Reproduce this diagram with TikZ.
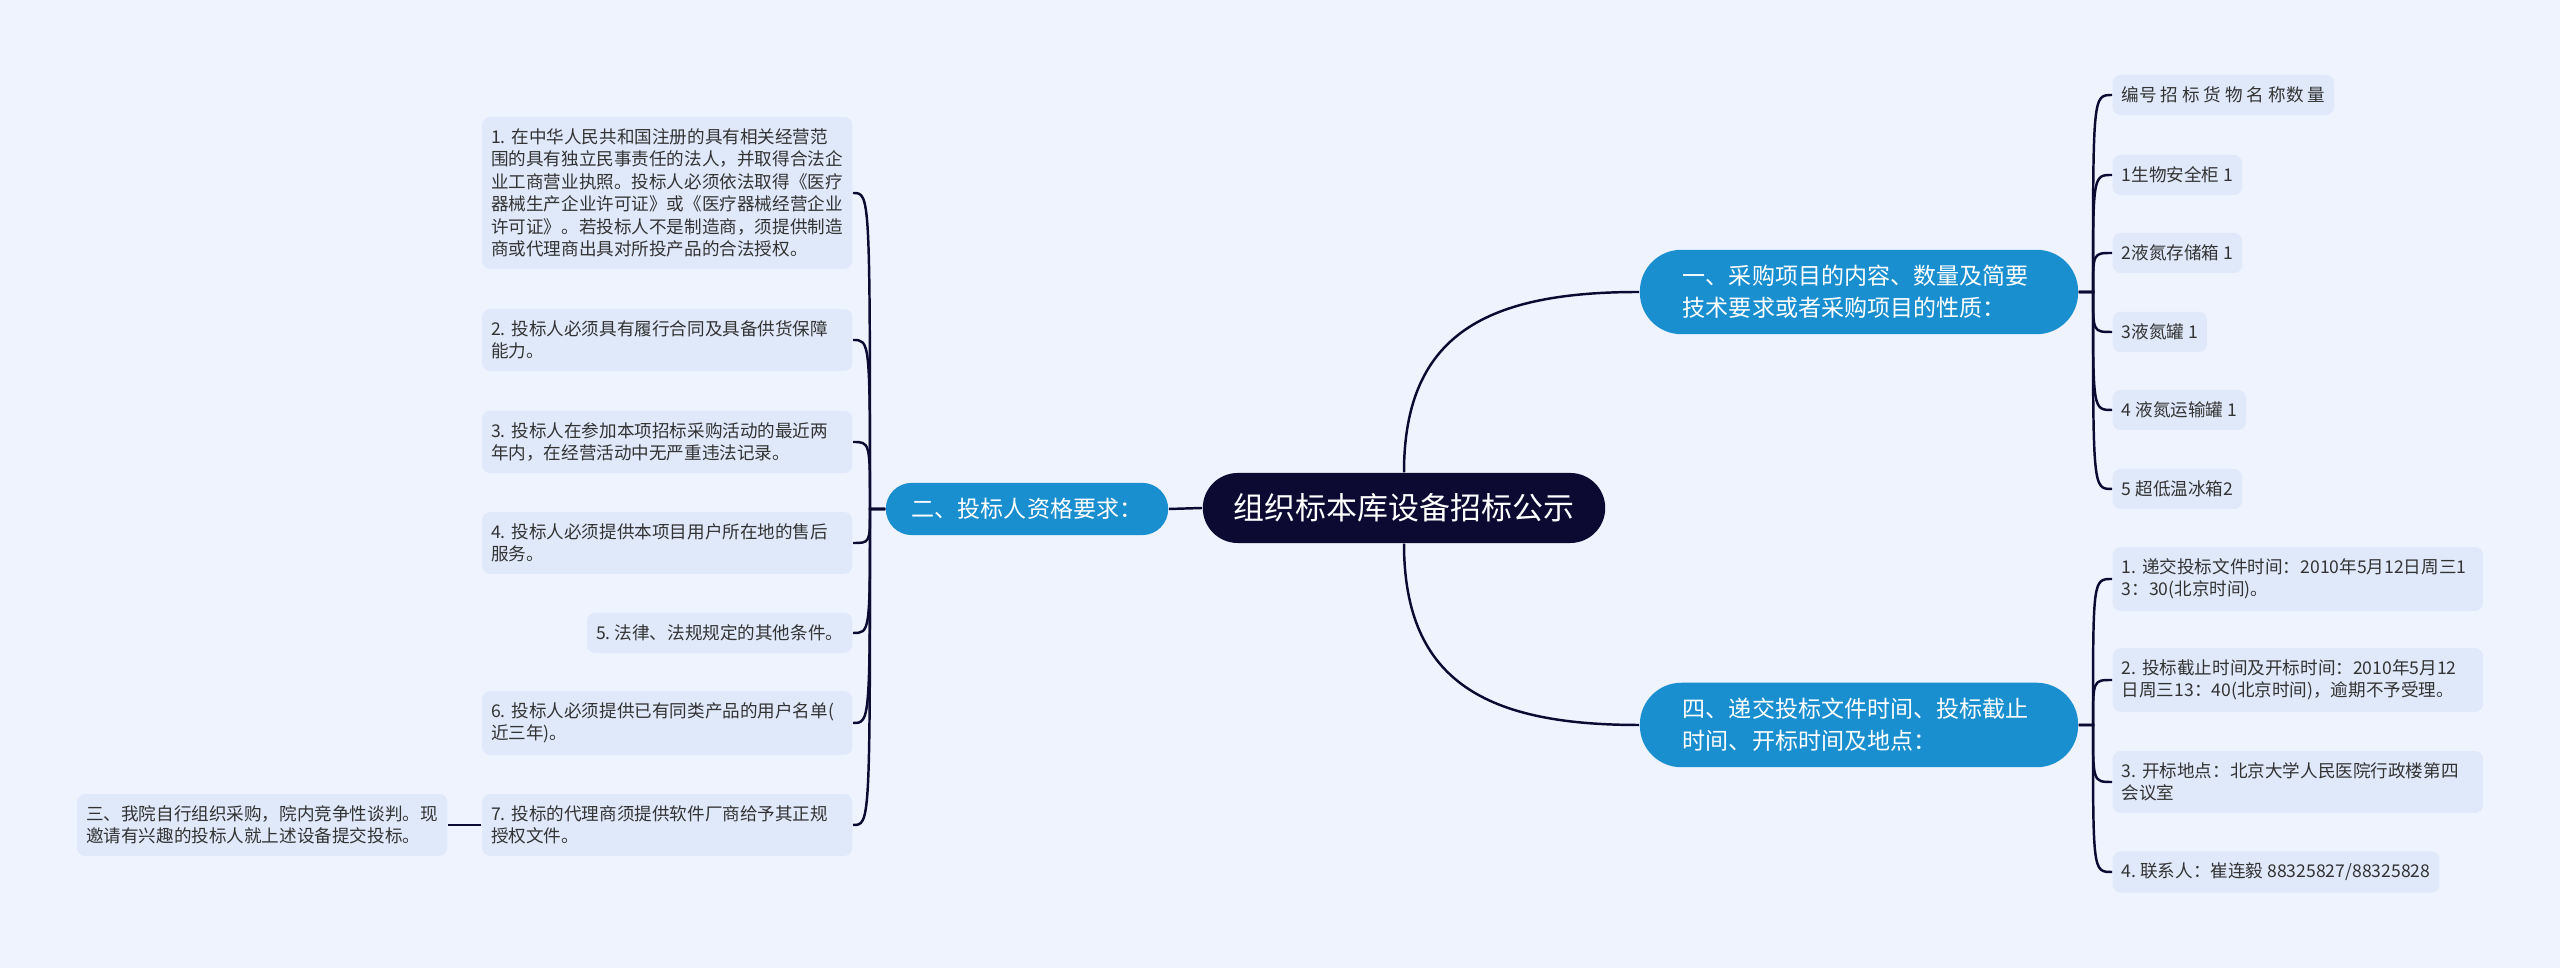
\documentclass[tikz,border=0pt]{standalone}
\usepackage{fontspec}
\setmainfont{Noto Sans CJK SC}
\usepackage{tikz}
\frenchspacing
\definecolor{bgcol}{HTML}{EEF3FE}
\definecolor{leafcol}{HTML}{E0E9FA}
\definecolor{branchcol}{HTML}{1A8FD0}
\definecolor{rootcol}{HTML}{0C0A33}
\definecolor{textcol}{HTML}{333333}
\tikzset{
	rootbox/.style={fill=rootcol, text=white, rounded corners=0.35cm, minimum height=0.70cm, inner xsep=0.31cm, font=\fontsize{8.8pt}{10.5pt}\selectfont},
	branch/.style={fill=branchcol, text=white, minimum height=0.52cm, inner xsep=0.26cm, inner ysep=0.155cm, rounded corners=0.26cm, align=left, font=\fontsize{6.55pt}{9.1pt}\selectfont},
	longbranch/.style={branch, text width=3.52cm, inner xsep=0.43cm, rounded corners=0.415cm},
	leaf/.style={fill=leafcol, text=textcol, minimum height=0.40cm, inner xsep=0.09cm, inner ysep=0.115cm, rounded corners=0.08cm, align=left, font=\fontsize{5pt}{6.4pt}\selectfont},
	longleaf/.style={leaf, text width=3.52cm},
	link/.style={draw=rootcol, line width=0.7pt}
}
\begin{document}
\begin{tikzpicture}[x=0.01cm, y=-0.01cm]
	\fill [bgcol] (0,0) rectangle (2560,968);
	\node [rootbox] (c) at (1404,508) {组织标本库设备招标公示};
	\node [longbranch] (b1) at (1859,292) {一、采购项目的内容、数量及简要\\技术要求或者采购项目的性质：};
	\node [branch] (b2) at (1027,509) {二、投标人资格要求：};
	\node [longbranch] (b4) at (1859,725) {四、递交投标文件时间、投标截止\\时间、开标时间及地点：};
	\coordinate (j1) at (2093,292);
	\coordinate (j2) at (870,509);
	\coordinate (j4) at (2093,725);
	\node [leaf, anchor=west] (g0) at (2112,95) {编号 招 标 货 物 名 称数 量};
	\node [leaf, anchor=west] (g1) at (2112,175) {1生物安全柜 1};
	\node [leaf, anchor=west] (g2) at (2112,253) {2液氮存储箱 1};
	\node [leaf, anchor=west] (g3) at (2112,332) {3液氮罐 1};
	\node [leaf, anchor=west] (g4) at (2112,410) {4 液氮运输罐 1};
	\node [leaf, anchor=west] (g5) at (2112,489) {5 超低温冰箱2};
	\node [longleaf, anchor=west] (t1) at (2112,579) {1. 递交投标文件时间：2010年5月12日周三1\\3：30(北京时间)。};
	\node [longleaf, anchor=west] (t2) at (2112,680) {2. 投标截止时间及开标时间：2010年5月12\\日周三13：40(北京时间)，逾期不予受理。};
	\node [longleaf, anchor=west] (t3) at (2112,782) {3. 开标地点：北京大学人民医院行政楼第四\\会议室};
	\node [leaf, anchor=west] (t4) at (2112,872) {4. 联系人：崔连毅 88325827/88325828};
	\node [longleaf, anchor=east] (p1) at (853,193) {1. 在中华人民共和国注册的具有相关经营范\\围的具有独立民事责任的法人，并取得合法企\\业工商营业执照。投标人必须依法取得《医疗\\器械生产企业许可证》或《医疗器械经营企业\\许可证》。若投标人不是制造商，须提供制造\\商或代理商出具对所投产品的合法授权。};
	\node [longleaf, anchor=east] (p2) at (853,340) {2. 投标人必须具有履行合同及具备供货保障\\能力。};
	\node [longleaf, anchor=east] (p3) at (853,442) {3. 投标人在参加本项招标采购活动的最近两\\年内，在经营活动中无严重违法记录。};
	\node [longleaf, anchor=east] (p4) at (853,543) {4. 投标人必须提供本项目用户所在地的售后\\服务。};
	\node [leaf, anchor=east] (p5) at (853,633) {5. 法律、法规规定的其他条件。};
	\node [longleaf, anchor=east] (p6) at (853,723) {6. 投标人必须提供已有同类产品的用户名单(\\近三年)。};
	\node [longleaf, anchor=east] (p7) at (853,825) {7. 投标的代理商须提供软件厂商给予其正规\\授权文件。};
	\node [longleaf, anchor=east] (b3) at (448,825) {三、我院自行组织采购，院内竞争性谈判。现\\邀请有兴趣的投标人就上述设备提交投标。};
	\draw [link] (c.north) .. controls +(0,-140) and +(-150,0) .. (b1.west);
	\draw [link] (c.south) .. controls +(0,140) and +(-150,0) .. (b4.west);
	\draw [link] (c.west) -- (b2.east);
	\draw [link] (b1.east) -- (j1) .. controls (j1 |- g0.west) .. (g0.west);
	\draw [link] (b1.east) -- (j1) .. controls (j1 |- g1.west) .. (g1.west);
	\draw [link] (b1.east) -- (j1) .. controls (j1 |- g2.west) .. (g2.west);
	\draw [link] (b1.east) -- (j1) .. controls (j1 |- g3.west) .. (g3.west);
	\draw [link] (b1.east) -- (j1) .. controls (j1 |- g4.west) .. (g4.west);
	\draw [link] (b1.east) -- (j1) .. controls (j1 |- g5.west) .. (g5.west);
	\draw [link] (b4.east) -- (j4) .. controls (j4 |- t1.west) .. (t1.west);
	\draw [link] (b4.east) -- (j4) .. controls (j4 |- t2.west) .. (t2.west);
	\draw [link] (b4.east) -- (j4) .. controls (j4 |- t3.west) .. (t3.west);
	\draw [link] (b4.east) -- (j4) .. controls (j4 |- t4.west) .. (t4.west);
	\draw [link] (b2.west) -- (j2) .. controls (j2 |- p1.east) .. (p1.east);
	\draw [link] (b2.west) -- (j2) .. controls (j2 |- p2.east) .. (p2.east);
	\draw [link] (b2.west) -- (j2) .. controls (j2 |- p3.east) .. (p3.east);
	\draw [link] (b2.west) -- (j2) .. controls (j2 |- p4.east) .. (p4.east);
	\draw [link] (b2.west) -- (j2) .. controls (j2 |- p5.east) .. (p5.east);
	\draw [link] (b2.west) -- (j2) .. controls (j2 |- p6.east) .. (p6.east);
	\draw [link] (b2.west) -- (j2) .. controls (j2 |- p7.east) .. (p7.east);
	\draw [link] (p7.west) -- (b3.east);
\end{tikzpicture}
\end{document}
